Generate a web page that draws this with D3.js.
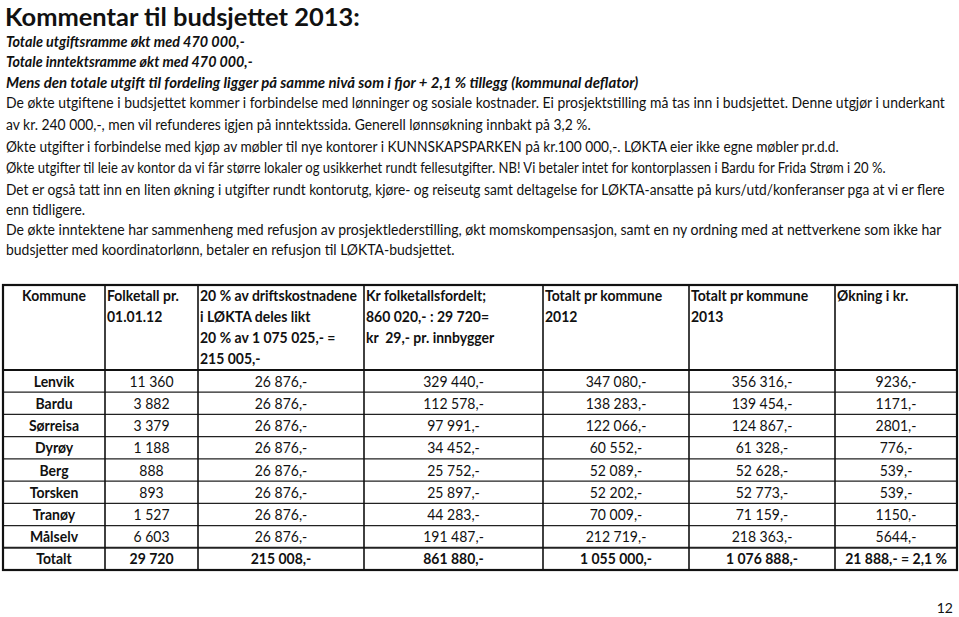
<!DOCTYPE html>
<html>
<head>
<meta charset="utf-8">
<script src="https://cdn.jsdelivr.net/npm/d3@7"></script>
<style>
  body { margin: 0; background: #fff; }
  text { font-family: Lato, "Open Sans", sans-serif; fill: #111; white-space: pre; }
</style>
</head>
<body>
<div id="chart"></div>
<script>
// text of the comment page
const title = "Kommentar til budsjettet 2013:"
const lines = [
  "Totale utgiftsramme økt med 470 000,-",
  "Totale inntektsramme økt med 470 000,-",
  "Mens den totale utgift til fordeling ligger på samme nivå som i fjor + 2,1 % tillegg (kommunal deflator)",
  "De økte utgiftene i budsjettet kommer i forbindelse med lønninger og sosiale kostnader. Ei prosjektstilling må tas inn i budsjettet. Denne utgjør i underkant",
  "av kr. 240 000,-, men vil refunderes igjen på inntektssida. Generell lønnsøkning innbakt på 3,2 %.",
  "Økte utgifter i forbindelse med kjøp av møbler til nye kontorer i KUNNSKAPSPARKEN på kr.100 000,-. LØKTA eier ikke egne møbler pr.d.d.",
  "Økte utgifter til leie av kontor da vi får større lokaler og usikkerhet rundt fellesutgifter. NB! Vi betaler intet for kontorplassen i Bardu for Frida Strøm i 20 %.",
  "Det er også tatt inn en liten økning i utgifter rundt kontorutg, kjøre- og reiseutg samt deltagelse for LØKTA-ansatte på kurs/utd/konferanser pga at vi er flere",
  "enn tidligere.",
  "De økte inntektene har sammenheng med refusjon av prosjektlederstilling, økt momskompensasjon, samt en ny ordning med at nettverkene som ikke har",
  "budsjetter med koordinatorlønn, betaler en refusjon til LØKTA-budsjettet."
]

// table data
const headers = [
  ["Kommune"],
  ["Folketall pr.", "01.01.12"],
  ["20 % av driftskostnadene", "i LØKTA deles likt", "20 % av 1 075 025,- =", "215 005,-"],
  ["Kr folketallsfordelt;", "860 020,- : 29 720=", "kr  29,- pr. innbygger"],
  ["Totalt pr kommune", "2012"],
  ["Totalt pr kommune", "2013"],
  ["Økning i kr."]
]
const kommuner = ["Lenvik", "Bardu", "Sørreisa", "Dyrøy", "Berg", "Torsken", "Tranøy", "Målselv"]
const folketall = [11360, 3882, 3379, 1188, 888, 893, 1527, 6603]
const delesLikt = [26876, 26876, 26876, 26876, 26876, 26876, 26876, 26876]
const folkFordelt = [329440, 112578, 97991, 34452, 25752, 25897, 44283, 191487]
const totalt2012 = [347080, 138283, 122066, 60552, 52089, 52202, 70009, 212719]
const totalt2013 = [356316, 139454, 124867, 61328, 52628, 52773, 71159, 218363]
const okning = [9236, 1171, 2801, 776, 539, 539, 1150, 5644]
const totalRow = ["Totalt", "29 720", "215 008,-", "861 880,-", "1 055 000,-", "1 076 888,-", "21 888,- = 2,1 %"]
const pageNo = "12"

const width = 959, height = 617

// layout (pixels)
const lineY = [47, 67, 88, 108, 130, 152, 173, 195, 215, 235, 255]
const lineW = [239, 247, 633, 940, 585, 833, 881, 940, 79, 936, 449]
const colW = [102, 93, 166, 179, 146, 146, 122]
const tableLeft = 3, tableTop = 285, headBottom = 370, tableBottom = 570

const no = d3.formatLocale({decimal: ",", thousands: " ", grouping: [3], currency: ["", ""]})
const fmt = no.format(",d")
const kr = v => fmt(v) + ",-"

const svg = d3.select("#chart").append("svg")
  .attr("width", width).attr("height", height)

svg.append("rect").attr("width", width).attr("height", height).attr("fill", "#fff")

// put a text at (x, y) squeezed horizontally to width w (Calibri is narrower than Lato)
function squeezed(parent, x, yy, s, size, w, opts) {
  const o = opts || {}
  const g = parent.append("g")
  const el = g.append("text")
    .attr("text-anchor", o.anchor || "start")
    .style("font-size", size + "px")
    .style("font-weight", o.bold ? "bold" : "normal")
    .style("font-style", o.italic ? "italic" : "normal")
    .text(s)
  const nat = el.node().getComputedTextLength()
  const k = (w == null ? nat * o.k : w) / nat
  g.attr("transform", "translate(" + x + "," + yy + ") scale(" + k + ",1)")
  return nat
}

squeezed(svg, 5, 25.5, title, 25, 355, {bold: true})

lines.forEach((s, i) => {
  squeezed(svg, 6, lineY[i], s, 15, lineW[i], {bold: i < 3, italic: i < 3})
})

// ---- table ----
const colX = [tableLeft]
colW.forEach(w => colX.push(colX[colX.length - 1] + w))
const tableRight = colX[colX.length - 1]

const rowNames = kommuner.concat(["Totalt"])
const y = d3.scaleBand().domain(rowNames).range([headBottom, tableBottom])

const rows = kommuner.map((k, i) => [
  k, fmt(folketall[i]), kr(delesLikt[i]), kr(folkFordelt[i]),
  kr(totalt2012[i]), kr(totalt2013[i]), okning[i] + ",-"
])
rows.push(totalRow)

const table = svg.append("g")

// compression factor taken from the widest header line
const probe = table.append("text").style("font-size", "15px").style("font-weight", "bold").text(headers[2][0])
const K = 157 / probe.node().getComputedTextLength()
probe.remove()

headers.forEach((h, c) => {
  h.forEach((s, j) => {
    if (c === 0) squeezed(table, (colX[0] + colX[1]) / 2, 301 + j * 21, s, 15, null, {bold: true, anchor: "middle", k: K})
    else squeezed(table, colX[c] + 2, 301 + j * 21, s, 15, null, {bold: true, k: K})
  })
})

rows.forEach((r, i) => {
  const name = rowNames[i]
  const bold = name === "Totalt"
  r.forEach((s, c) => {
    squeezed(table, (colX[c] + colX[c + 1]) / 2, y(name) + y.bandwidth() / 2 + 5.5, s, 15, null,
      {bold: c === 0 || bold, anchor: "middle", k: K})
  })
})

// horizontal row lines
rowNames.slice(1).forEach(n => {
  table.append("line")
    .attr("x1", tableLeft).attr("x2", tableRight)
    .attr("y1", y(n)).attr("y2", y(n))
    .style("stroke", "#222").style("stroke-width", n === "Totalt" ? 2 : 1.2)
})
table.append("line")
  .attr("x1", tableLeft).attr("x2", tableRight)
  .attr("y1", headBottom).attr("y2", headBottom)
  .style("stroke", "#111").style("stroke-width", 2)

// vertical column lines
colX.slice(1, -1).forEach(x => {
  table.append("line")
    .attr("x1", x).attr("x2", x)
    .attr("y1", tableTop).attr("y2", tableBottom)
    .style("stroke", "#111").style("stroke-width", 1.6)
})

// outer border
table.append("rect")
  .attr("x", tableLeft).attr("y", tableTop)
  .attr("width", tableRight - tableLeft).attr("height", tableBottom - tableTop)
  .style("fill", "none").style("stroke", "#111").style("stroke-width", 2.2)

svg.append("text")
  .attr("x", 953).attr("y", 613)
  .attr("text-anchor", "end")
  .style("font-size", "14px")
  .text(pageNo)
</script>
</body>
</html>
